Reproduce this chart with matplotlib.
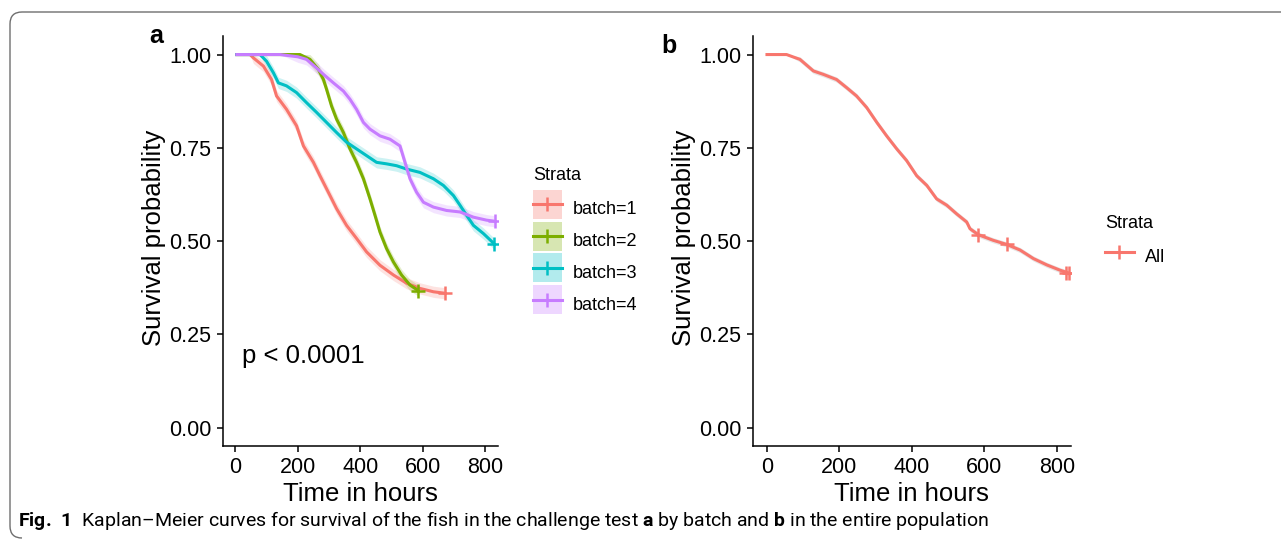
import numpy as np
import matplotlib.pyplot as plt
from matplotlib.patches import Patch, PathPatch, Rectangle
from matplotlib.lines import Line2D
from matplotlib.path import Path
from matplotlib.legend_handler import HandlerPatch

plt.rcParams['font.family'] = ['Liberation Sans', 'DejaVu Sans']
plt.rcParams['mathtext.fontset'] = 'custom'
plt.rcParams['mathtext.rm'] = 'Roboto'
plt.rcParams['mathtext.bf'] = 'Roboto:bold'

W, H = 1281, 541

# panel a: Kaplan-Meier estimates per batch (hours, survival)
t_b1 = [0, 47, 58, 90, 116, 132, 164, 196, 218, 250, 271, 303, 324, 356, 388, 420, 463, 506, 548, 591, 634, 671]
s_b1 = [1.0, 1.0, 0.991, 0.969, 0.933, 0.889, 0.853, 0.809, 0.755, 0.711, 0.675, 0.622, 0.587, 0.542,
        0.507, 0.471, 0.435, 0.409, 0.387, 0.373, 0.364, 0.360]
t_b2 = [0, 207, 239, 266, 282, 292, 308, 324, 346, 367, 388, 410, 431, 447, 463, 484, 506, 532, 559, 586]
s_b2 = [1.0, 1.0, 0.987, 0.960, 0.933, 0.907, 0.862, 0.827, 0.791, 0.747, 0.711, 0.667, 0.613, 0.569,
        0.524, 0.480, 0.444, 0.409, 0.382, 0.367]
t_b3 = [0, 79, 100, 122, 138, 164, 196, 228, 260, 292, 324, 356, 388, 420, 452, 484, 516, 548, 591,
        634, 666, 698, 719, 740, 762, 794, 828]
s_b3 = [1.0, 1.0, 0.982, 0.951, 0.924, 0.916, 0.898, 0.871, 0.845, 0.818, 0.791, 0.765, 0.747, 0.729,
        0.711, 0.707, 0.702, 0.693, 0.684, 0.667, 0.649, 0.622, 0.596, 0.569, 0.542, 0.520, 0.493]
t_b4 = [0, 143, 200, 228, 260, 282, 314, 346, 367, 388, 410, 431, 463, 495, 527, 543, 559, 580, 602,
        634, 676, 719, 762, 804, 831]
s_b4 = [1.0, 1.0, 0.994, 0.987, 0.964, 0.947, 0.924, 0.902, 0.880, 0.853, 0.818, 0.800, 0.782, 0.773,
        0.755, 0.711, 0.667, 0.631, 0.604, 0.591, 0.582, 0.578, 0.564, 0.556, 0.553]
batch_labels = ['batch=1', 'batch=2', 'batch=3', 'batch=4']
batch_colors = ['#F8766D', '#7CAE00', '#00BFC4', '#C77CFF']
ci_half = [0.015, 0.015, 0.015, 0.015]
cens_t = [[671], [586], [828], [831]]
cens_s = [[0.360], [0.367], [0.493], [0.553]]
p_text = 'p < 0.0001'

# panel b: whole population
t_all = [0, 54, 91, 128, 155, 192, 220, 247, 275, 303, 330, 358, 385, 413, 441, 468, 496, 523, 551,
         560, 583, 624, 661, 698, 735, 772, 808, 833]
s_all = [1.0, 1.0, 0.987, 0.956, 0.947, 0.933, 0.911, 0.889, 0.858, 0.818, 0.782, 0.747, 0.716, 0.675,
         0.649, 0.613, 0.596, 0.573, 0.551, 0.533, 0.517, 0.502, 0.491, 0.476, 0.453, 0.436, 0.422, 0.414]
cens_all_t = [583, 661, 825, 833]
cens_all_s = [0.517, 0.491, 0.415, 0.414]
ci_all = 0.007

yticks = [0.0, 0.25, 0.5, 0.75, 1.0]
yticklabels = ['0.00', '0.25', '0.50', '0.75', '1.00']
xticks = [0, 200, 400, 600, 800]


def fx(px):
    return px / W


def fy(py):
    return 1 - py / H


def key_box(legend, orig_handle, xdescent, ydescent, width, height, fontsize):
    # centre the fill box on the key line
    return Rectangle((-xdescent, -ydescent / 2), width, height)


fig = plt.figure(figsize=(W / 100, H / 100), dpi=100)

# rounded frame around the figure (top and left edges)
r = 12
verts = [(fx(1290), fy(12)), (fx(10 + r), fy(12)), (fx(10), fy(12)), (fx(10), fy(12 + r)),
         (fx(10), fy(538 - r)), (fx(10), fy(538)), (fx(10 + r), fy(538))]
codes = [Path.MOVETO, Path.LINETO, Path.CURVE3, Path.CURVE3, Path.LINETO, Path.CURVE3, Path.CURVE3]
fig.patches.append(PathPatch(Path(verts, codes), transform=fig.transFigure, fill=False,
                             edgecolor='#6e6e6e', lw=1.0))


def style_axes(ax, xlim):
    ax.set_xlim(*xlim)
    ax.set_ylim(-0.05, 1.05)
    for s in ['top', 'right']:
        ax.spines[s].set_visible(False)
    for s in ['left', 'bottom']:
        ax.spines[s].set_linewidth(1.1)
    ax.set_xticks(xticks)
    ax.set_yticks(yticks)
    ax.set_yticklabels(yticklabels)
    ax.tick_params(labelsize=15.5, length=4, width=1.1, pad=4, colors='black')


def add_legend(ax, handles, labels, x, y):
    leg = ax.legend(handles, labels, title='Strata', loc='upper left',
                    bbox_to_anchor=(fx(x), fy(y)), bbox_transform=fig.transFigure,
                    frameon=False, fontsize=13, title_fontsize=13, handlelength=1.6,
                    handleheight=2.1, handletextpad=0.6, labelspacing=0.15, borderpad=0,
                    borderaxespad=0, alignment='left',
                    handler_map={Patch: HandlerPatch(patch_func=key_box)})
    leg._legend_box.sep = 7  # extra room under the title
    return leg


# panel a
ax1 = fig.add_axes([fx(222.7), fy(446.2), fx(498) - fx(222.7), fy(35.9) - fy(446.2)])
series = [(t_b1, s_b1), (t_b2, s_b2), (t_b3, s_b3), (t_b4, s_b4)]
handles = []
for (t, s), c, hw, ct, cs in zip(series, batch_colors, ci_half, cens_t, cens_s):
    t = np.array(t)
    s = np.array(s)
    lo = np.where(s < 1, s - hw, s)
    hi = np.where(s < 1, np.minimum(s + hw, 1.0), s)
    ax1.fill_between(t, lo, hi, color=c, alpha=0.2, lw=0)
    ax1.plot(t, s, color=c, lw=2.2, solid_capstyle='butt')
    ax1.plot(ct, cs, ls='none', marker='+', color=c, markersize=10, mew=1.8)
    handles.append((Patch(facecolor=c, alpha=0.3, edgecolor='none'),
                    Line2D([], [], color=c, lw=2.2, marker='+', markersize=10, mew=1.8)))
style_axes(ax1, (-40.3, 840.6))
add_legend(ax1, handles, batch_labels, 533, 167.5)
ax1.text(fx(242), fy(356), p_text, transform=fig.transFigure, fontsize=18.5,
         ha='left', va='center')

# panel b
ax2 = fig.add_axes([fx(752.7), fy(446.2), fx(1070.7) - fx(752.7), fy(35.9) - fy(446.2)])
ta = np.array(t_all)
sa = np.array(s_all)
ax2.fill_between(ta, np.where(sa < 1, sa - ci_all, sa), np.where(sa < 1, sa + ci_all, sa),
                 color='#bbbbbb', alpha=0.35, lw=0)
ax2.plot(ta, sa, color='#F8766D', lw=2.2)
ax2.plot(cens_all_t, cens_all_s, ls='none', marker='+', color='#F8766D', markersize=10, mew=1.8)
style_axes(ax2, (-39.4, 837.8))
add_legend(ax2, [(Patch(facecolor='none', edgecolor='none'),
                  Line2D([], [], color='#F8766D', lw=2.2, marker='+', markersize=10, mew=1.8))],
           ['All'], 1105, 215.5)

# axis titles and panel letters
for xc, xl in [(154.5, 360.4), (684.5, 911.7)]:
    fig.text(fx(xc), fy(238), 'Survival probability', rotation=90, ha='center', va='center',
             fontsize=18.5)
    fig.text(fx(xl), fy(494), 'Time in hours', ha='center', va='center', fontsize=18.5)
fig.text(fx(156.5), fy(36), 'a', ha='center', va='center', fontsize=18, fontweight='bold')
fig.text(fx(668.5), fy(46), 'b', ha='center', va='center', fontsize=18, fontweight='bold')

# caption
fig.text(fx(18), fy(521), r'$\mathbf{Fig.\ 1}$  Kaplan–Meier curves for survival of the fish in the '
         r'challenge test $\mathbf{a}$ by batch and $\mathbf{b}$ in the entire population',
         ha='left', va='center', fontsize=14, family='Roboto')

fig.savefig('out.png', dpi=100)
